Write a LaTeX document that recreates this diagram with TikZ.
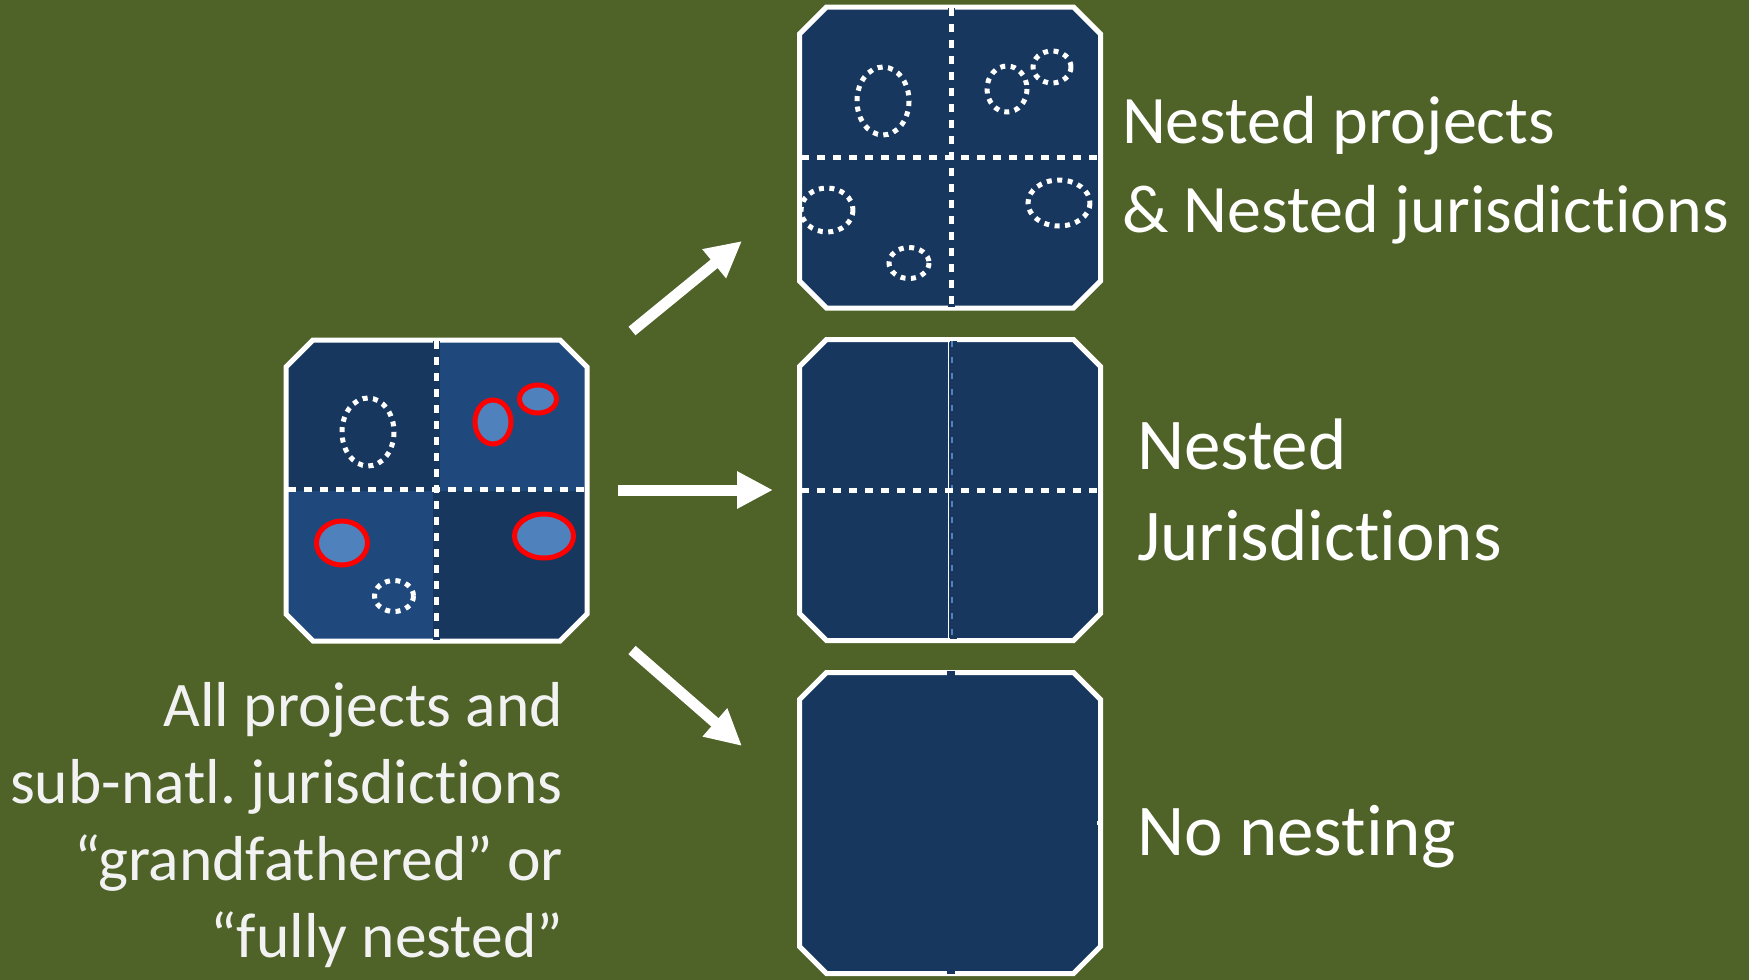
\documentclass[tikz,border=0pt]{standalone}
\usepackage{fontspec}
\setmainfont{Carlito}[Ligatures=NoCommon]
\frenchspacing
\usetikzlibrary{arrows.meta}
\definecolor{bg}{HTML}{4F6228}
\definecolor{darkq}{HTML}{17375E}
\definecolor{lightq}{HTML}{1F497D}
\definecolor{fillell}{HTML}{4F81BD}
\definecolor{offwhite}{HTML}{F2F2F2}
\tikzset{
  boxnode/.style={draw=none, minimum size=301pt, inner sep=0pt, outer sep=0pt},
  chamf/.style={insert path={([xshift=27pt]#1.north west) -- ([xshift=-27pt]#1.north east) -- ([yshift=-27pt]#1.north east) -- ([yshift=27pt]#1.south east) -- ([xshift=-27pt]#1.south east) -- ([xshift=27pt]#1.south west) -- ([yshift=27pt]#1.south west) -- ([yshift=-27pt]#1.north west) -- cycle}},
  boxline/.style={draw=white, line width=5pt, line join=miter},
  divband/.style={draw=darkq, line width=7pt},
  divdash/.style={draw=white, line width=5pt, dash pattern=on 8pt off 8pt},
  dotell/.style={draw=white, line width=5pt, dash pattern=on 5pt off 5.5pt},
  redell/.style={draw=red, line width=5pt, fill=fillell},
  arr/.style={draw=white, line width=11pt, -{Triangle[length=36pt, width=35pt]}},
  lbl/.style={text=white, inner sep=0pt, outer sep=0pt},
}
\begin{document}
\begin{tikzpicture}[x=1pt, y=-1pt]
\useasboundingbox (0,0) rectangle (1749,980);
\fill[bg] (0,0) rectangle (1749,980);

% ---------- source box ----------
\node[boxnode] (src) at (436.5,490.5) {};
\fill[darkq, chamf=src];
\begin{scope}
  \clip[chamf=src];
  \fill[lightq] (src.center) rectangle (src.north east);
  \fill[lightq] (src.center) rectangle (src.south west);
\end{scope}
\draw[dotell] (368,432) ellipse [x radius=26, y radius=34];
\draw[dotell] (394,596) ellipse [x radius=19.5, y radius=15.5];
\draw[redell] (493,422) ellipse [x radius=18, y radius=22];
\draw[redell] (538,399) ellipse [x radius=18.5, y radius=14];
\draw[redell] (342,543) ellipse [x radius=25.5, y radius=22];
\draw[redell] (544,536) ellipse [x radius=29.5, y radius=22];
\draw[boxline, chamf=src];
\draw[divband] (436,341) -- (436,640);
\draw[divdash] (436,341) -- (436,640);
\draw[divdash] (288,489) -- (585,489);

% ---------- top box: nested projects & jurisdictions ----------
\node[boxnode] (topb) at (950,157.5) {};
\fill[darkq, chamf=topb];
\begin{scope}
  \clip[chamf=topb];
  \draw[dotell] (883,101) ellipse [x radius=26, y radius=34];
  \draw[dotell] (1007,89) ellipse [x radius=20, y radius=23];
  \draw[dotell] (1052,67) ellipse [x radius=19, y radius=16];
  \draw[dotell] (827,210) ellipse [x radius=26, y radius=22];
  \draw[dotell] (909,263) ellipse [x radius=20, y radius=15.5];
  \draw[dotell] (1059,203) ellipse [x radius=31, y radius=23];
\end{scope}
\draw[boxline, chamf=topb];
\draw[divband] (951,8) -- (951,307);
\draw[divdash] (951,8) -- (951,307);
\draw[divdash] (801,157) -- (1099,157);

% ---------- middle box: nested jurisdictions ----------
\node[boxnode] (midb) at (950,490) {};
\fill[darkq, chamf=midb];
\draw[boxline, chamf=midb];
\draw[draw=darkq, line width=7pt] (953,341) -- (953,639);
\draw[draw=white, line width=1.5pt] (948.5,341) -- (948.5,639);
\draw[draw=fillell, line width=2.5pt, dash pattern=on 6pt off 10pt] (952,341) -- (952,639);
\draw[divdash] (801,490) -- (1099,490);

% ---------- bottom box: no nesting ----------
\node[boxnode] (botb) at (950,823) {};
\fill[darkq, chamf=botb];
\draw[boxline, chamf=botb];
\fill[darkq] (947,671) rectangle (955,676);
\fill[darkq] (947,969) rectangle (955,974);
\fill[white] (1097,821) rectangle (1102,825);

% ---------- arrows ----------
\coordinate (u1) at (632,331);
\coordinate (u2) at (742,241);
\coordinate (m1) at (618,490);
\coordinate (m2) at (773,490);
\coordinate (d1) at (632,650);
\coordinate (d2) at (742,746);
\draw[arr] (u1) -- (u2);
\draw[arr] (m1) -- (m2);
\draw[arr] (d1) -- (d2);

% ---------- labels (anchor = baseline of the last line) ----------
\node[lbl, anchor=base west, align=left, font=\fontsize{68pt}{89pt}\selectfont] (t1) at (1122,232)
  {Nested projects\\\& Nested jurisdictions};
\node[lbl, anchor=base west, align=left, font=\fontsize{73pt}{91pt}\selectfont] (t2) at (1137,560)
  {Nested\\Jurisdictions};
\node[lbl, anchor=base west, font=\fontsize{73pt}{91pt}\selectfont] (t3) at (1137,855)
  {No nesting};
\node[lbl, text=offwhite, anchor=base east, align=right, font=\fontsize{63.5pt}{77pt}\selectfont] (t4) at (563,957)
  {All projects and\\sub-natl. jurisdictions\\“grandfathered” or\\“fully nested”};
\end{tikzpicture}
\end{document}
